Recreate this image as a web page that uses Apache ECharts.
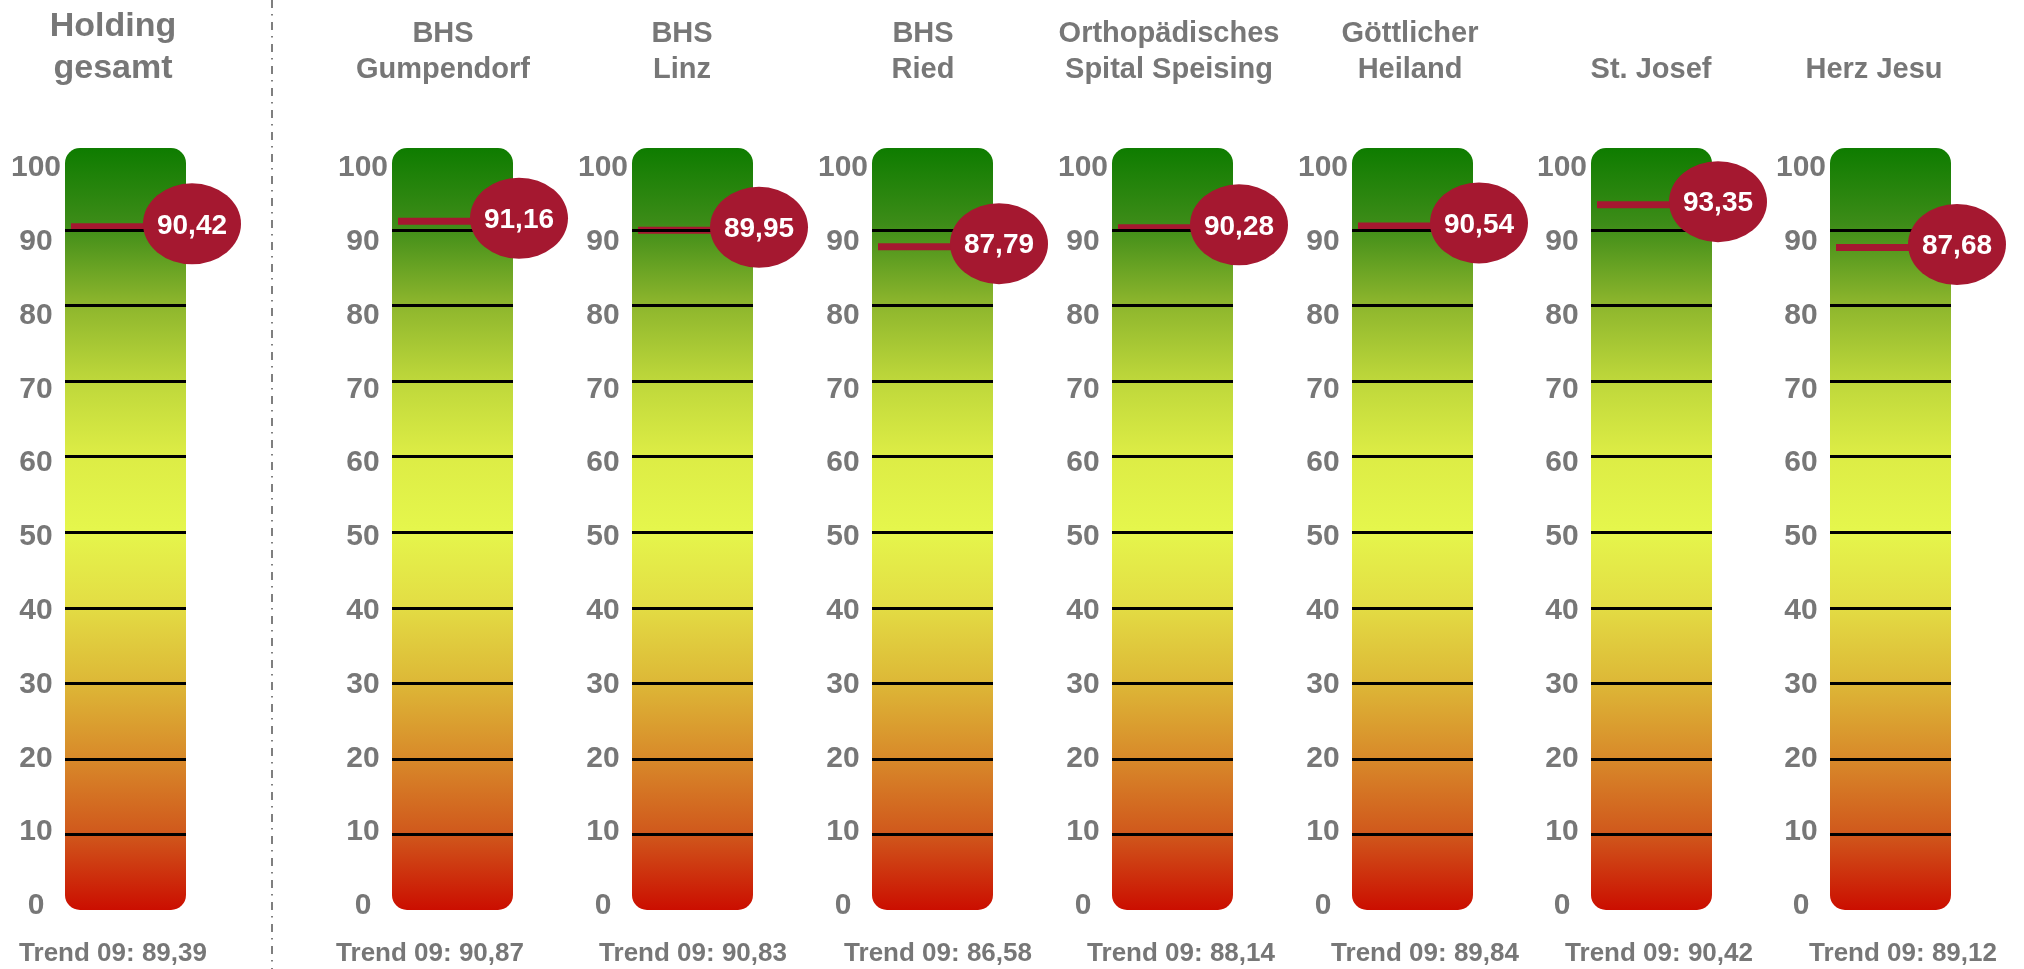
<!DOCTYPE html>
<html><head><meta charset="utf-8">
<script src="https://cdn.jsdelivr.net/npm/echarts@6/dist/echarts.min.js"></script>
<style>html,body{margin:0;padding:0;background:#fff}#c{width:2024px;height:969px}</style>
</head><body><div id="c"></div>
<script>
// ---------- data ----------
const categories = ['Holding\ngesamt', 'BHS\nGumpendorf', 'BHS\nLinz', 'BHS\nRied',
  'Orthopädisches\nSpital Speising', 'Göttlicher\nHeiland', 'St. Josef', 'Herz Jesu'];
const scores = [90.42, 91.16, 89.95, 87.79, 90.28, 90.54, 93.35, 87.68];
const trend09 = [89.39, 90.87, 90.83, 86.58, 88.14, 89.84, 90.42, 89.12];
const axisMin = 0;
const axisMax = 100;
const axisStep = 10;
const scaleLines = [10, 20, 30, 40, 50, 60, 70, 80, 90];
const trendPrefix = 'Trend 09: ';

// ---------- layout / style ----------
const barLefts = [65, 392, 632, 872, 1112, 1352, 1591, 1830];
const barW = 121;
const titleX = [113, 443, 682, 923, 1169, 1410, 1651, 1874];
const trendX = [113, 430, 693, 938, 1181, 1425, 1659, 1903];
const gaugeTop = 148, gaugeBottom = 910;
const gaugeMax = 100.85;
const labelTop = 168, labelBottom = 906;
const FONT = '"Liberation Sans", Arial, Helvetica, sans-serif';
const GRAY = '#777777';
const RED = '#a51830';
const fmt = v => v.toFixed(2).replace('.', ',');

const tubeGradient = new echarts.graphic.LinearGradient(0, 0, 0, 1, [
  { offset: 0.00, color: '#0e7c00' },
  { offset: 0.10, color: '#3d8c18' },
  { offset: 0.20, color: '#8ab42c' },
  { offset: 0.30, color: '#bcd63a' },
  { offset: 0.40, color: '#dcec45' },
  { offset: 0.50, color: '#e5f64c' },
  { offset: 0.60, color: '#e3dd44' },
  { offset: 0.70, color: '#ddb837' },
  { offset: 0.80, color: '#d88a2a' },
  { offset: 0.90, color: '#d0581c' },
  { offset: 1.00, color: '#cb0e00' }
]);

const ellipsePath = 'path://M0,50 A50,50 0 1,1 100,50 A50,50 0 1,1 0,50 Z';

const grid = [], xAxis = [], yAxis = [], series = [], graphic = [];

categories.forEach((name, i) => {
  const gi = grid.length;
  grid.push({ left: barLefts[i], width: barW, top: gaugeTop, height: gaugeBottom - gaugeTop });
  grid.push({ left: barLefts[i], width: barW, top: labelTop, height: labelBottom - labelTop });
  xAxis.push({ type: 'category', data: [name], gridIndex: gi, show: false });
  xAxis.push({ type: 'category', data: [name], gridIndex: gi + 1, show: false });
  yAxis.push({ type: 'value', gridIndex: gi, min: axisMin, max: gaugeMax, show: false });
  yAxis.push({
    type: 'value', gridIndex: gi + 1, min: axisMin, max: axisMax, interval: axisStep,
    axisLine: { show: false }, axisTick: { show: false }, splitLine: { show: false },
    axisLabel: { color: GRAY, fontSize: 30, fontWeight: 'bold', fontFamily: FONT, align: 'center', margin: 29 }
  });
  series.push({
    type: 'bar', xAxisIndex: gi, yAxisIndex: gi, data: [scores[i]], barWidth: '100%',
    itemStyle: { color: 'rgba(0,0,0,0)' },
    showBackground: true,
    backgroundStyle: { color: tubeGradient, borderRadius: 15, opacity: 1 },
    silent: true, z: 2,
    markLine: {
      silent: true, symbol: 'none', label: { show: false },
      lineStyle: { color: '#000', width: 3, type: 'solid', opacity: 1 },
      data: scaleLines.map(v => ({ yAxis: v }))
    }
  });
  series.push({
    type: 'scatter', xAxisIndex: gi, yAxisIndex: gi, data: [[0, scores[i]]],
    symbol: 'rect', symbolSize: [barW, 7], symbolOffset: [6, 0],
    itemStyle: { color: RED, opacity: 1 }, silent: true, z: 4
  });
  series.push({
    type: 'scatter', xAxisIndex: gi, yAxisIndex: gi, data: [[0, scores[i]]],
    symbol: ellipsePath, symbolSize: [98, 81], symbolOffset: [barW / 2 + 6, -3],
    itemStyle: { color: RED, opacity: 1 }, silent: true, z: 5,
    label: {
      show: true, position: 'inside', color: '#fff', fontSize: 28, fontWeight: 'bold', fontFamily: FONT,
      opacity: 1, offset: [0, 2],
      formatter: p => fmt(Array.isArray(p.value) ? p.value[1] : p.value)
    }
  });

  const isMain = i === 0;
  graphic.push({
    type: 'text', silent: true,
    style: {
      text: name, x: titleX[i], y: isMain ? 90 : 88,
      align: 'center', verticalAlign: 'bottom', textAlign: 'center', textVerticalAlign: 'bottom',
      font: 'bold ' + (isMain ? 34 : 29) + 'px ' + FONT,
      lineHeight: isMain ? 42 : 36, fill: GRAY
    }
  });
  graphic.push({
    type: 'text', silent: true,
    style: {
      text: trendPrefix + fmt(trend09[i]), x: trendX[i], y: 954,
      align: 'center', verticalAlign: 'middle', textAlign: 'center', textVerticalAlign: 'middle',
      font: 'bold 26px ' + FONT, fill: GRAY
    }
  });
});

graphic.push({
  type: 'line', silent: true,
  shape: { x1: 272, y1: 0, x2: 272, y2: 969 },
  style: { stroke: '#555', lineWidth: 1.5, lineDash: [8, 6, 1.5, 6.5] }
});

const chart = echarts.init(document.getElementById('c'));
chart.setOption({
  animation: false,
  backgroundColor: '#fff',
  grid, xAxis, yAxis, series, graphic
});
</script>
</body></html>
